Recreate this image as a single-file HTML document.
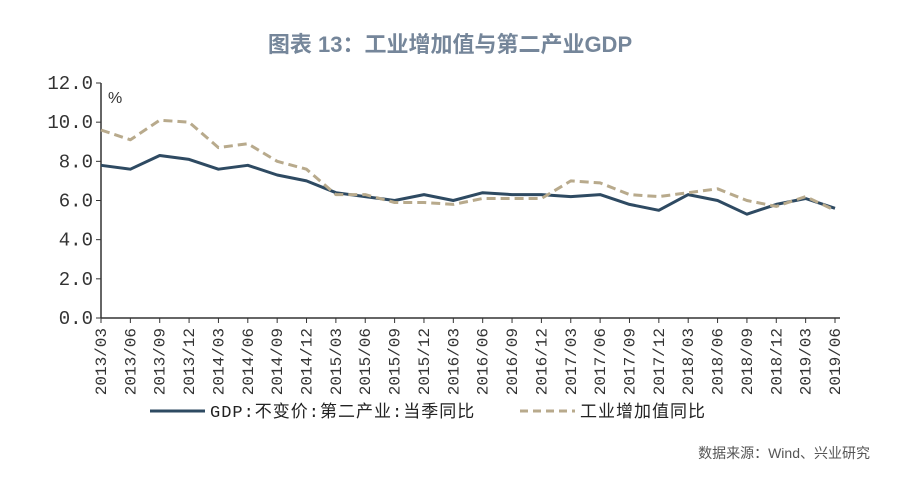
<!DOCTYPE html>
<html><head><meta charset="utf-8"><style>
body{margin:0;background:#fff;width:900px;height:472px;overflow:hidden}
svg text{font-family:"Liberation Sans","Noto Sans CJK SC",sans-serif}
svg text.m{font-family:"Liberation Mono","Noto Sans CJK SC",monospace}
</style></head><body>
<svg id="c" width="900" height="472">
<text x="450" y="52" text-anchor="middle" font-size="22" font-weight="bold" fill="#75869a">图表 13：工业增加值与第二产业GDP</text>
<text x="108" y="103" font-size="16" fill="#333">%</text>
<g id="axes"></g>
<g id="plot"></g>
<line x1="150" y1="411" x2="205" y2="411" stroke="#2e4a62" stroke-width="3"/>
<text class="m" x="210" y="417" font-size="17" fill="#222" letter-spacing="1">GDP:不变价:第二产业:当季同比</text>
<line x1="520" y1="411" x2="575" y2="411" stroke="#b8aa8c" stroke-width="3" stroke-dasharray="8,5"/>
<text x="580" y="417" font-size="17" fill="#222" letter-spacing="1">工业增加值同比</text>
<text x="870" y="458" text-anchor="end" font-size="14" fill="#555">数据来源：Wind、兴业研究</text>
</svg>
<script>
const categories=["2013/03","2013/06","2013/09","2013/12","2014/03","2014/06","2014/09","2014/12","2015/03","2015/06","2015/09","2015/12","2016/03","2016/06","2016/09","2016/12","2017/03","2017/06","2017/09","2017/12","2018/03","2018/06","2018/09","2018/12","2019/03","2019/06"];
const gdpValues=[7.8,7.6,8.3,8.1,7.6,7.8,7.3,7.0,6.4,6.2,6.0,6.3,6.0,6.4,6.3,6.3,6.2,6.3,5.8,5.5,6.3,6.0,5.3,5.8,6.1,5.6];
const industryValues=[9.6,9.1,10.1,10.0,8.7,8.9,8.0,7.6,6.3,6.3,5.9,5.9,5.8,6.1,6.1,6.1,7.0,6.9,6.3,6.2,6.4,6.6,6.0,5.7,6.2,5.5];
const yTicks=[0,2,4,6,8,10,12];
const yTickLabels=["0.0","2.0","4.0","6.0","8.0","10.0","12.0"];
const NS="http://www.w3.org/2000/svg";
const x0=101,x1=835,y0=318,y1=83;
const xs=i=>x0+i*(x1-x0)/(categories.length-1);
const ys=v=>y0-v*(y0-y1)/12;
const ax=document.getElementById('axes'),pl=document.getElementById('plot');
function mk(t,a,p){const e=document.createElementNS(NS,t);for(const k in a)e.setAttribute(k,a[k]);p.appendChild(e);return e;}
let e=mk('line',{x1:x0,y1:y1,x2:x0,y2:y0,stroke:'#333','stroke-width':1.5},ax);


e=mk('line',{x1:x0,y1:y0,x2:x1+5,y2:y0,stroke:'#333','stroke-width':1.5},ax);


yTicks.forEach((v,i)=>{
 mk('line',{x1:x0-5,y1:ys(v),x2:x0,y2:ys(v),stroke:'#333'},ax);
 const t=mk('text',{x:x0-8,y:ys(v)+6,'text-anchor':'end','font-size':19,fill:'#333',class:'m'},ax);
 t.textContent=yTickLabels[i];
 
 
});
categories.forEach((c,i)=>{
 const x=xs(i);
 mk('line',{x1:x,y1:y0,x2:x,y2:y0+5,stroke:'#333'},ax);
 const t=mk('text',{x:0,y:0,'text-anchor':'end','font-size':16,fill:'#333',class:'m',transform:`translate(${x+5},${y0+10}) rotate(-90)`},ax);
 t.textContent=c;
 
 
});
function line(vals,col,dash,name){
 const d=vals.map((v,i)=>(i?'L':'M')+xs(i).toFixed(1)+','+ys(v).toFixed(1)).join('');
 const p=mk('path',{d:d,fill:'none',stroke:col,'stroke-width':3,'stroke-linejoin':'round'},pl);
 if(dash)p.setAttribute('stroke-dasharray',dash);
 
 
}
line(gdpValues,'#2e4a62',null,'gdp-line');
line(industryValues,'#b8aa8c','9,5','industry-line');
</script>
</body></html>
